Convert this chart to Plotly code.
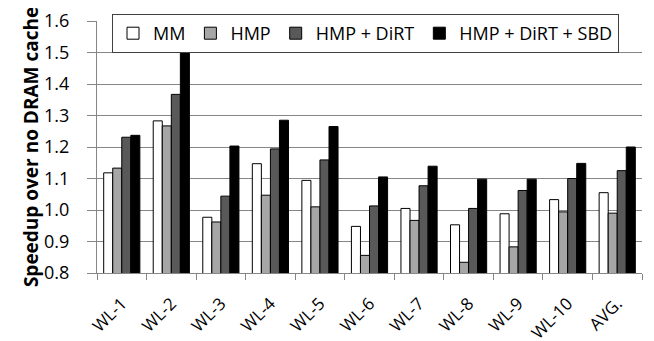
import plotly.graph_objects as go

categories = ["WL-1", "WL-2", "WL-3", "WL-4", "WL-5", "WL-6", "WL-7", "WL-8", "WL-9", "WL-10", "AVG."]
mm = [1.118, 1.283, 0.977, 1.147, 1.094, 0.948, 1.005, 0.953, 0.988, 1.033, 1.055]
hmp = [1.133, 1.267, 0.962, 1.047, 1.010, 0.856, 0.967, 0.834, 0.883, 0.994, 0.990]
hmp_dirt = [1.231, 1.367, 1.044, 1.194, 1.159, 1.013, 1.077, 1.005, 1.062, 1.100, 1.125]
hmp_dirt_sbd = [1.237, 1.507, 1.203, 1.285, 1.265, 1.105, 1.139, 1.098, 1.098, 1.148, 1.200]

series = [
    ("MM", mm, "#ffffff"),
    ("HMP", hmp, "#a6a6a6"),
    ("HMP + DiRT", hmp_dirt, "#595959"),
    ("HMP + DiRT + SBD", hmp_dirt_sbd, "#000000"),
]

FONT = "'Open Sans', 'Noto Sans', sans-serif"

# the page adds an 8px body margin, so the figure is sized to fit the window
W, H = 646, 333

fig = go.Figure()
for name, vals, col in series:
    fig.add_trace(go.Bar(
        x=categories, y=vals, name=name,
        marker=dict(color=col, line=dict(color="#000000", width=1)),
    ))

fig.update_layout(
    width=W, height=H,
    margin=dict(l=89, r=12, t=13, b=68, autoexpand=False),
    paper_bgcolor="white", plot_bgcolor="white",
    barmode="group", bargap=0.27, bargroupgap=0,
    font=dict(family=FONT, size=18, color="#000000"),
    legend=dict(
        orientation="h", x=104 / W, y=1 - 6 / H, xref="container", yref="container",
        xanchor="left", yanchor="top",
        bgcolor="white", bordercolor="#404040", borderwidth=1,
        font=dict(family=FONT, size=18, color="#000000"),
        itemwidth=30, tracegroupgap=0,
    ),
    xaxis=dict(
        type="category", tickangle=-45, automargin=False,
        tickfont=dict(family=FONT, size=17, color="#000000"),
        showline=True, linecolor="#868686", linewidth=1,
        ticks="outside", tickson="boundaries", ticklen=6, tickcolor="#868686",
        ticklabelstandoff=13,
        showgrid=False,
    ),
    yaxis=dict(
        range=[0.8, 1.6], dtick=0.1, tickformat=".1f", automargin=False,
        tickfont=dict(family=FONT, size=18, color="#000000"),
        showline=True, linecolor="#868686", linewidth=1,
        ticks="outside", ticklen=9, tickcolor="#868686",
        ticklabelstandoff=14,
        showgrid=True, gridcolor="#868686", gridwidth=1,
        zeroline=False,
        title=dict(text="<b>Speedup over no DRAM cache</b>",
                   font=dict(family=FONT, size=19, color="#000000"), standoff=0),
    ),
)

fig.write_html("out.html")
